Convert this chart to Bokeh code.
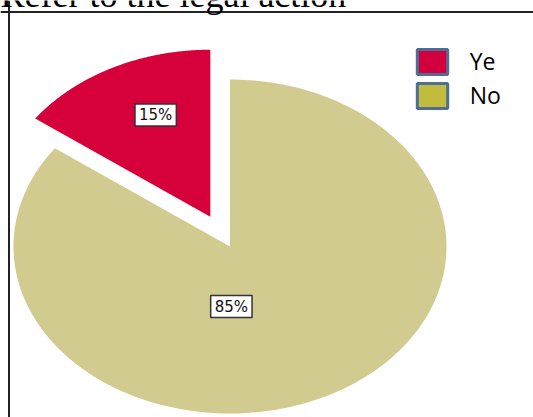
import numpy as np
from bokeh.plotting import figure
from bokeh.models import ColumnDataSource, Span, Label, Legend, LegendItem, Range1d
from bokeh.embed import file_html
from bokeh.resources import INLINE
from bokeh.core.properties import value

# ---- data ----
title_text = "Refer to the legal action"
categories = ["Ye", "No"]
percents = [15, 85]
pct_labels = ["15%", "85%"]
pie_colors = ["#d6003b", "#d1cb90"]
legend_colors = ["#d3003f", "#c1bc3c"]

# ---- style / layout constants ----
W, H = 533, 417
CX, CY, RX, RY = 229.5, 246.0, 216.5, 167.0   # pie centre / radii in pixels
EXPLODE = [0.2, 0.0]
LABEL_POLAR = [(0.66, 112.5), (0.36, 271.0)]  # label radius / angle


def px_x(px):
    return (px - CX) / RX


def px_y(py):
    return (CY - py) / RY


p = figure(width=W, height=H,
           x_range=Range1d(px_x(0), px_x(W)), y_range=Range1d(px_y(H), px_y(0)),
           output_backend="svg", toolbar_location=None,
           x_axis_location=None, y_axis_location=None, min_border=0)
p.grid.visible = False
p.outline_line_color = None
p.background_fill_color = "white"
p.border_fill_color = "white"

# ---- pie slices ----
vals = np.array(percents, dtype=float)
fracs = vals / vals.sum()
starts = 90.0 + 360.0 * np.concatenate([[0.0], np.cumsum(fracs)[:-1]])
ends = starts + 360.0 * fracs
xs, ys, lx, ly = [], [], [], []
for i in range(len(vals)):
    mid = np.radians((starts[i] + ends[i]) / 2)
    ox, oy = EXPLODE[i] * np.cos(mid), EXPLODE[i] * np.sin(mid)
    t = np.radians(np.linspace(starts[i], ends[i], 240))
    xs.append(list(np.concatenate([[ox], ox + np.cos(t)])))
    ys.append(list(np.concatenate([[oy], oy + np.sin(t)])))
    r, a = LABEL_POLAR[i]
    lx.append(ox + r * np.cos(np.radians(a)))
    ly.append(oy + r * np.sin(np.radians(a)))

src = ColumnDataSource(dict(xs=xs, ys=ys, color=pie_colors, cat=categories))
p.patches("xs", "ys", source=src, fill_color="color", line_color=None)

lsrc = ColumnDataSource(dict(x=lx, y=ly, text=pct_labels))
p.text("x", "y", text="text", source=lsrc, text_align="center", text_baseline="middle",
       text_font=value("DejaVu Sans"), text_font_size="15px", text_color="#111111",
       background_fill_color="white", border_line_color="#333333", border_line_width=1.5,
       padding=dict(x=4, y=2))

# ---- frame lines ----
p.add_layout(Span(location=px_x(8.5), dimension="height", line_color="#222222", line_width=2))
p.add_layout(Span(location=px_y(11.5), dimension="width", line_color="#222222", line_width=2))

# ---- title (clipped at the top, as in the reference) ----
p.add_layout(Label(x=0, y=H + 6, x_units="screen", y_units="screen", text=title_text,
                   text_font="Liberation Serif", text_font_size="36px",
                   text_baseline="alphabetic", text_color="black"))

# ---- legend ----
items = []
for c, col in zip(categories, legend_colors):
    r = p.rect(x=[np.nan], y=[np.nan], width=1, height=1, fill_color=col,
               line_color="#4d6f95", line_width=3)
    items.append(LegendItem(label=c, renderers=[r]))
legend = Legend(items=items, location=(412.7, 305.6), orientation="vertical",
                glyph_width=38, glyph_height=31, spacing=2, label_standoff=19,
                padding=0, margin=0, border_line_color=None, background_fill_alpha=0,
                label_text_font="Open Sans", label_text_font_size="23px",
                label_text_color="black")
p.add_layout(legend)

open("out.html", "w").write(file_html(p, INLINE))
